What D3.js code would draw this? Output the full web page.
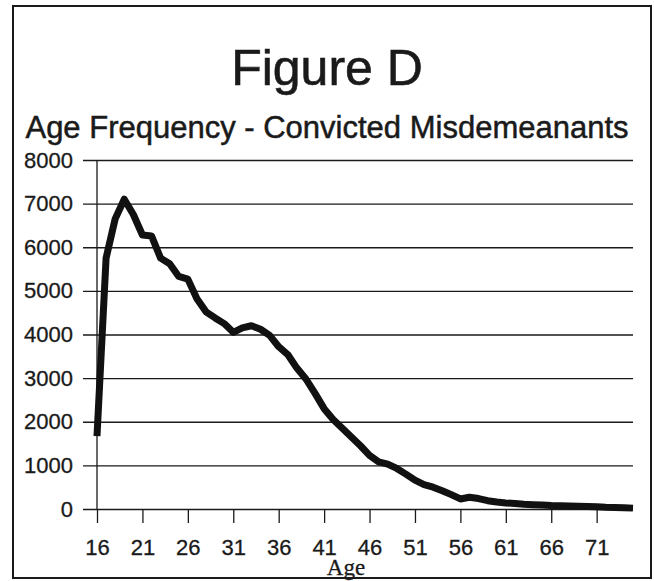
<!DOCTYPE html>
<html><head><meta charset="utf-8">
<script src="https://cdn.jsdelivr.net/npm/d3@7"></script>
<style>body{margin:0;background:#fff}</style>
</head><body>
<svg id="c" width="654" height="581"></svg>
<script>
const ages = [16,17,18,19,20,21,22,23,24,25,26,27,28,29,30,31,32,33,34,35,36,37,38,39,40,
  41,42,43,44,45,46,47,48,49,50,51,52,53,54,55,56,57,58,59,60,61,62,63,64,65,66,67,68,69,70,
  71,72,73,74,75];
const counts = [1670,5750,6650,7100,6750,6280,6260,5750,5620,5330,5270,4820,4520,4380,4250,
  4050,4150,4200,4120,3980,3720,3540,3230,2980,2650,2300,2050,1850,1650,1450,1230,1080,1030,
  930,800,660,560,500,420,330,230,270,240,190,160,140,125,110,100,90,80,75,70,65,60,50,40,35,30,20];
const yTicks = [0,1000,2000,3000,4000,5000,6000,7000,8000];
const xTickAges = [16,21,26,31,36,41,46,51,56,61,66,71];
const title = "Figure D";
const subtitle = "Age Frequency - Convicted Misdemeanants";
const xTitle = "Age";

const svg = d3.select("#c");
const ink = "#1a1a1a";
const sans = "'Liberation Sans', Arial, sans-serif";

svg.append("rect").attr("x",13).attr("y",6).attr("width",638).attr("height",572)
  .attr("fill","none").attr("stroke",ink).attr("stroke-width",2);

svg.append("text").attr("x",327).attr("y",85).attr("text-anchor","middle")
  .attr("font-family",sans).attr("font-size",50).attr("fill",ink)
  .attr("stroke",ink).attr("stroke-width",0.6).text(title);
svg.append("text").attr("x",327).attr("y",138).attr("text-anchor","middle")
  .attr("font-family",sans).attr("font-size",31).attr("fill",ink)
  .attr("stroke",ink).attr("stroke-width",0.5).text(subtitle);

const x = d3.scalePoint().domain(ages).range([97,633]);
const y = d3.scaleLinear().domain([0,8000]).range([509,160]);

const ya = svg.append("g").attr("transform","translate(83,0)")
  .call(d3.axisLeft(y).tickValues(yTicks).tickSize(-550).tickPadding(10).tickFormat(d3.format("d")));
ya.select(".domain").remove();
ya.selectAll(".tick line").attr("stroke",ink).attr("stroke-width",1.3);
ya.selectAll(".tick text").attr("font-family",sans).attr("font-size",22).attr("fill",ink)
  .attr("stroke",ink).attr("stroke-width",0.3);

svg.append("line").attr("x1",97).attr("x2",97).attr("y1",y(8000)).attr("y2",y(0))
  .attr("stroke",ink).attr("stroke-width",1.3);

const xa = svg.append("g").attr("transform",`translate(0,${y(0)})`)
  .call(d3.axisBottom(x).tickValues(xTickAges).tickSize(14).tickPadding(16));
xa.select(".domain").remove();
xa.selectAll(".tick line").attr("stroke",ink).attr("stroke-width",1.3);
xa.selectAll(".tick text").attr("font-family",sans).attr("font-size",22).attr("fill",ink)
  .attr("stroke",ink).attr("stroke-width",0.3);

svg.append("text").attr("x",346).attr("y",575).attr("text-anchor","middle")
  .attr("font-family","'Liberation Serif', 'Times New Roman', serif").attr("font-size",23)
  .attr("fill",ink).attr("stroke",ink).attr("stroke-width",0.3).text(xTitle);

const data = ages.map((a,i)=>({a, v:counts[i]}));
svg.append("path").datum(data)
  .attr("fill","none").attr("stroke","#111").attr("stroke-width",7)
  .attr("stroke-linejoin","round")
  .attr("d", d3.line().x(d=>x(d.a)).y(d=>y(d.v)));
</script>
</body></html>
